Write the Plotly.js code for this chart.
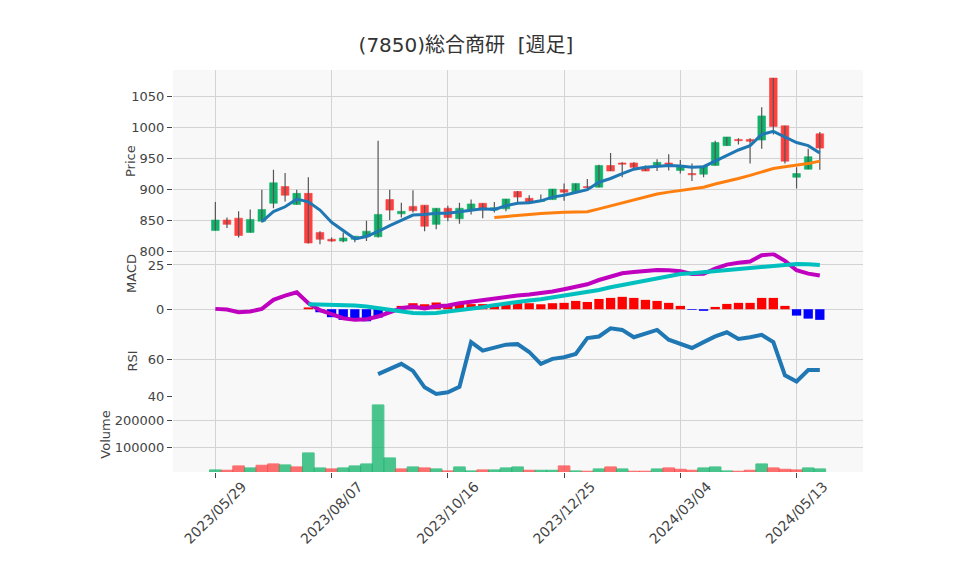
<!DOCTYPE html>
<html>
<head>
<meta charset="utf-8">
<script src="https://cdn.plot.ly/plotly-3.0.1.min.js"></script>
<style>
  html, body { margin: 0; padding: 0; background: #fff; }
  #chart { width: 958px; height: 575px; }
</style>
</head>
<body>
<div id="chart"></div>
<script>
// weekly bars, first week 2023-05-29
const weekCount = 53;
const firstWeek = '2023-05-29';

const openPx = [833,850,853,830,848,877,904,875,893,830,819,816,819,823,823,883,860,872,874,843,869,852,867,877,866,868,896,885,880,883,899,895,904,903,938,942,942,935,938,942,930,925,924,938,970,980,980,979,1079,1002,919,932,989];
const highPx = [879,854,864,867,899,931,926,899,919,832,822,830,824,849,978,899,878,898,874,869,873,878,883,877,879,884,897,890,891,900,909,909,916,939,958,943,943,938,948,956,947,941,937,978,984,982,982,1032,1079,1002,935,965,992];
const lowPx = [833,837,822,830,846,869,880,875,812,811,815,814,814,816,822,850,854,862,832,835,848,844,859,853,862,864,877,877,880,883,881,895,901,903,929,919,934,929,929,930,925,913,919,938,970,972,941,965,988,941,901,932,931];
const closePx = [850,843,825,851,867,910,890,893,813,819,816,821,824,832,859,866,864,865,840,869,854,869,876,866,870,884,887,879,881,900,895,909,902,938,929,940,935,929,943,939,938,923,937,975,984,978,977,1018,1001,945,925,952,966];

// moving averages (5 weeks from week 4, 25 weeks from week 24)
const ma5 = [847.5,863.5,871.4,883.7,879.4,866.1,846.4,833,819.7,823.5,831.5,841,850,858,859,861,861,863.5,866,868,867,873,877,878,881,887,890,894,899,911,917,925,932,935,937,938,937,935,936,945,955,963,970,988,993,984,975,970,958];
const ma25 = [854,856,857.5,859,860.5,862,862.5,863,863.5,868,873,878,883,887,892,895,898,900,903,908,912,917,922,927,933,936,938,941,945];

const macdLine = [0.2,-0.2,-1.7,-1.3,0.2,5.3,7.7,9.6,3.4,-0.5,-2.8,-5.1,-6.0,-5.6,-4.1,-1.9,0.6,1.5,0.4,1.7,2.1,3.4,4.3,4.9,6.2,7.1,7.7,8.3,9.0,10.0,11.3,12.5,14.1,16.5,18.5,20.3,21.0,21.6,22.2,22.0,21.5,19.9,20.0,22.9,25.2,26.3,26.9,30.5,31.2,27.3,22.0,20.1,19.0];
// signal and histogram start at week 8
const macdSignal = [2.8,2.7,2.6,2.4,2.1,1.5,0.6,-0.6,-1.5,-2.1,-2.3,-2.1,-1.3,-0.6,0.2,1.1,2.3,3.3,4.3,4.9,5.6,6.6,7.5,8.5,9.6,10.9,12.4,13.7,15.2,16.5,17.7,18.8,19.9,20.3,20.9,21.6,22.2,22.7,23.3,24.1,24.8,25.4,25.6,25.4,25.0];
const macdHist = [1.0,-1.7,-4.5,-6.0,-6.6,-6.8,-4.7,-1.3,1.9,3.4,2.8,3.8,2.6,3.2,2.9,2.9,3.0,3.1,3.4,3.4,2.8,3.4,3.6,4.7,4.1,5.8,6.4,7.0,6.4,5.3,4.7,3.6,1.9,-0.4,-0.9,1.3,3.0,3.6,3.6,6.4,6.4,1.9,-3.6,-5.3,-6.0];

// RSI starts at week 14
const rsi = [52.1,54.8,57.8,53.9,44.9,41.3,42.2,45.2,69.7,65,66.5,68.3,68.6,64.3,57.8,60.5,61.4,63.2,71.9,72.8,77.3,76.4,72.4,74.6,76.4,71,68.8,66.5,69.7,72.8,75.1,71.4,72.4,73.7,69.7,51.5,48.1,54.4,54.4];

const volume = [13900,12650,29100,21500,31600,36700,32900,25300,78500,21500,17700,21500,29100,36700,260800,59500,17700,25300,21500,17700,10100,25300,10100,13900,13900,21500,25300,12650,12650,12650,29100,10100,8900,17700,25300,17700,8900,8900,17700,21500,16400,12650,21500,25300,10100,8900,12650,36700,21500,16400,13900,21500,17700];
// u = close above last week, d = below
const volumeDir = 'uddudduduuduuuuudududuuduuuduududududduddduuudduddduu'.split('');

const tickWeeks = [0, 10, 20, 30, 40, 50];

const GREEN = '#10b36a';
const RED = '#ff4040';
const DAY = 86400000;

const dates = [];
const t0 = new Date(firstWeek + 'T00:00:00Z').getTime();
for (let i = 0; i < weekCount; i++) {
  dates.push(new Date(t0 + i * 7 * DAY).toISOString().slice(0, 10));
}

// wicks as broken line segments
const wickX = [];
const wickY = [];
dates.forEach((d, i) => {
  wickX.push(d, d, null);
  wickY.push(lowPx[i], highPx[i], null);
});

const bodyBase = openPx.map((o, i) => Math.min(o, closePx[i]));
const bodySize = openPx.map((o, i) => Math.max(Math.abs(closePx[i] - o), 1));
const bodyColor = openPx.map((o, i) => (closePx[i] >= o ? GREEN : RED));

const traces = [
  {
    type: 'scatter', mode: 'lines', x: wickX, y: wickY,
    line: { color: '#555', width: 1.2 }, xaxis: 'x', yaxis: 'y', hoverinfo: 'skip',
  },
  {
    type: 'bar', x: dates, y: bodySize, base: bodyBase, width: 4.6 * DAY,
    marker: { color: bodyColor, line: { color: bodyColor, width: 0.6 } },
    xaxis: 'x', yaxis: 'y',
  },
  {
    type: 'scatter', mode: 'lines', x: dates.slice(4), y: ma5,
    line: { color: '#1f77b4', width: 3 }, xaxis: 'x', yaxis: 'y',
  },
  {
    type: 'scatter', mode: 'lines', x: dates.slice(24), y: ma25,
    line: { color: '#ff7f0e', width: 3 }, xaxis: 'x', yaxis: 'y',
  },
  {
    type: 'bar', x: dates.slice(8), y: macdHist, width: 5.6 * DAY,
    marker: { color: macdHist.map(v => (v >= 0 ? '#ff0000' : '#0000ff')) },
    xaxis: 'x', yaxis: 'y2',
  },
  {
    type: 'scatter', mode: 'lines', x: dates, y: macdLine,
    line: { color: '#bf00bf', width: 4 }, xaxis: 'x', yaxis: 'y2',
  },
  {
    type: 'scatter', mode: 'lines', x: dates.slice(8), y: macdSignal,
    line: { color: '#00bfbf', width: 4 }, xaxis: 'x', yaxis: 'y2',
  },
  {
    type: 'scatter', mode: 'lines', x: dates.slice(14), y: rsi,
    line: { color: '#1f77b4', width: 4 }, xaxis: 'x', yaxis: 'y3',
  },
  {
    type: 'bar', x: dates, y: volume, width: 7 * DAY,
    marker: {
      color: volumeDir.map(v => (v === 'u' ? GREEN : RED)),
      opacity: 0.75,
      line: { color: volumeDir.map(v => (v === 'u' ? GREEN : RED)), width: 1 },
    },
    xaxis: 'x', yaxis: 'y4',
  },
];

const GRID = '#d3d3d3';
const titleFont = { size: 13, color: '#444' };
const yCommon = {
  ticks: 'outside', ticklen: 5, tickcolor: '#444',
  showgrid: true, gridcolor: GRID, zeroline: false, showline: false,
  anchor: 'x', fixedrange: true,
};

const layout = {
  width: 958,
  height: 575,
  margin: { l: 173, r: 95, t: 70, b: 103 },
  paper_bgcolor: '#ffffff',
  plot_bgcolor: '#f8f8f8',
  font: { family: 'DejaVu Sans, "Noto Sans CJK JP", sans-serif', size: 13, color: '#444' },
  showlegend: false,
  barmode: 'overlay',
  title: {
    text: '(7850)総合商研  [週足]',
    font: { size: 20, color: '#333' },
    xref: 'container', x: 466 / 958, xanchor: 'center',
    yref: 'container', y: 1 - 45 / 575, yanchor: 'middle',
  },
  xaxis: {
    type: 'date',
    range: ['2023-05-03 12:00', '2024-06-22'],
    anchor: 'y4',
    tickvals: tickWeeks.map(w => dates[w]),
    tickformat: '%Y/%m/%d',
    tickangle: -45,
    tickfont: { size: 14 },
    ticklabelshift: 27,
    ticklabelstandoff: -5,
    ticks: 'outside', ticklen: 5, tickcolor: '#444',
    showgrid: true, gridcolor: GRID, zeroline: false, showline: false,
  },
  yaxis: Object.assign({}, yCommon, {
    domain: [0.5463, 1], range: [797.8, 1092], dtick: 50,
    title: { text: 'Price', font: titleFont },
  }),
  yaxis2: Object.assign({}, yCommon, {
    domain: [0.3657, 0.5463], range: [-8.9, 32.1], dtick: 25,
  }),
  yaxis3: Object.assign({}, yCommon, {
    domain: [0.1866, 0.3657], range: [39.6, 79.1], dtick: 20,
    title: { text: 'RSI', font: titleFont },
  }),
  yaxis4: Object.assign({}, yCommon, {
    domain: [0, 0.1866], range: [6000, 291000], dtick: 100000, tickformat: 'd',
    title: { text: 'Volume', font: titleFont },
  }),
  annotations: [
    {
      text: 'MACD', textangle: -90, showarrow: false,
      xref: 'paper', yref: 'paper',
      x: (131 - 173) / 690, y: (472 - 274) / 402,
      xanchor: 'center', yanchor: 'middle',
      font: titleFont,
    },
  ],
};

Plotly.newPlot('chart', traces, layout, { displayModeBar: false, staticPlot: true });
</script>
</body>
</html>
